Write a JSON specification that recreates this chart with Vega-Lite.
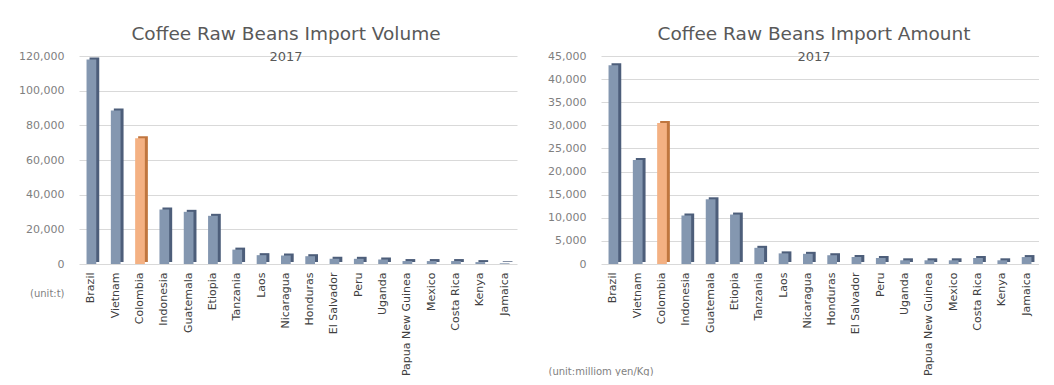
{
  "$schema": "https://vega.github.io/schema/vega-lite/v6.json",
  "padding": {"left": 18, "top": 24, "right": 0, "bottom": 0},
  "background": "white",
  "spacing": 30,
  "config": {
    "font": "DejaVu Sans",
    "view": {"stroke": null},
    "title": {"fontSize": 18.5, "fontWeight": "normal", "color": "#595959", "subtitleFontSize": 13, "subtitleColor": "#595959", "subtitlePadding": 8, "offset": -14, "anchor": "middle"},
    "axisY": {"domain": false, "ticks": false, "labelPadding": 15, "labelFontSize": 11, "labelColor": "#7f7f7f", "gridColor": "#d9d9d9", "titleAngle": 0, "titleFontSize": 10, "titleFontWeight": "normal", "titleColor": "#7f7f7f", "titleBaseline": "middle"},
    "axisX": {"domain": false, "ticks": false, "labelAngle": -90, "labelPadding": 8, "labelFontSize": 11, "labelColor": "#404040", "title": null}
  },
  "datasets": {
    "volume": [
      {"Country": "Brazil", "v": 118000},
      {"Country": "Vietnam", "v": 88500},
      {"Country": "Colombia", "v": 72500},
      {"Country": "Indonesia", "v": 31400},
      {"Country": "Guatemala", "v": 30100},
      {"Country": "Etiopia", "v": 27800},
      {"Country": "Tanzania", "v": 8300},
      {"Country": "Laos", "v": 5100},
      {"Country": "Nicaragua", "v": 4900},
      {"Country": "Honduras", "v": 4500},
      {"Country": "El Salvador", "v": 3000},
      {"Country": "Peru", "v": 3000},
      {"Country": "Uganda", "v": 2600},
      {"Country": "Papua New Guinea", "v": 1700},
      {"Country": "Mexico", "v": 1700},
      {"Country": "Costa Rica", "v": 1700},
      {"Country": "Kenya", "v": 1100},
      {"Country": "Jamaica", "v": 400}
    ],
    "amount": [
      {"Country": "Brazil", "v": 43000},
      {"Country": "Vietnam", "v": 22500},
      {"Country": "Colombia", "v": 30500},
      {"Country": "Indonesia", "v": 10500},
      {"Country": "Guatemala", "v": 14000},
      {"Country": "Etiopia", "v": 10700},
      {"Country": "Tanzania", "v": 3500},
      {"Country": "Laos", "v": 2300},
      {"Country": "Nicaragua", "v": 2200},
      {"Country": "Honduras", "v": 1900},
      {"Country": "El Salvador", "v": 1500},
      {"Country": "Peru", "v": 1300},
      {"Country": "Uganda", "v": 800},
      {"Country": "Papua New Guinea", "v": 800},
      {"Country": "Mexico", "v": 800},
      {"Country": "Costa Rica", "v": 1300},
      {"Country": "Kenya", "v": 800},
      {"Country": "Jamaica", "v": 1500}
    ]
  },
  "hconcat": [
    {
      "width": 438,
      "height": 208,
      "data": {"name": "volume"},
      "title": {"text": "Coffee Raw Beans Import Volume", "subtitle": "2017", "dx": -12},
      "encoding": {
        "x": {"field": "Country", "type": "nominal", "sort": null, "scale": {"paddingInner": 0.6, "paddingOuter": 0.31}},
        "y": {"field": "v", "type": "quantitative", "scale": {"domain": [0, 120000]},
              "axis": {"values": [0, 20000, 40000, 60000, 80000, 100000, 120000], "format": ",.0f", "title": "(unit:t)", "titleAlign": "right", "titleX": -15, "titleY": 237}}
      },
      "layer": [
        {"mark": {"type": "bar", "xOffset": 3, "yOffset": -2, "y2Offset": -2},
         "encoding": {"color": {"condition": {"test": "datum.Country === 'Colombia'", "value": "#c0763f"}, "value": "#4d5e7a"}}},
        {"mark": {"type": "bar"},
         "encoding": {"color": {"condition": {"test": "datum.Country === 'Colombia'", "value": "#f4b183"}, "value": "#8497b0"}}}
      ]
    },
    {
      "width": 438,
      "height": 208,
      "data": {"name": "amount"},
      "title": {"text": "Coffee Raw Beans Import Amount", "subtitle": "2017", "dx": -6},
      "encoding": {
        "x": {"field": "Country", "type": "nominal", "sort": null, "scale": {"paddingInner": 0.6, "paddingOuter": 0.31}},
        "y": {"field": "v", "type": "quantitative", "scale": {"domain": [0, 45000]},
              "axis": {"values": [0, 5000, 10000, 15000, 20000, 25000, 30000, 35000, 40000, 45000], "format": ",.0f", "title": "(unit:milliom yen/Kg)", "titleAlign": "left", "titleX": -53, "titleY": 315}}
      },
      "layer": [
        {"mark": {"type": "bar", "xOffset": 3, "yOffset": -2, "y2Offset": -2},
         "encoding": {"color": {"condition": {"test": "datum.Country === 'Colombia'", "value": "#c0763f"}, "value": "#4d5e7a"}}},
        {"mark": {"type": "bar"},
         "encoding": {"color": {"condition": {"test": "datum.Country === 'Colombia'", "value": "#f4b183"}, "value": "#8497b0"}}}
      ]
    }
  ]
}
